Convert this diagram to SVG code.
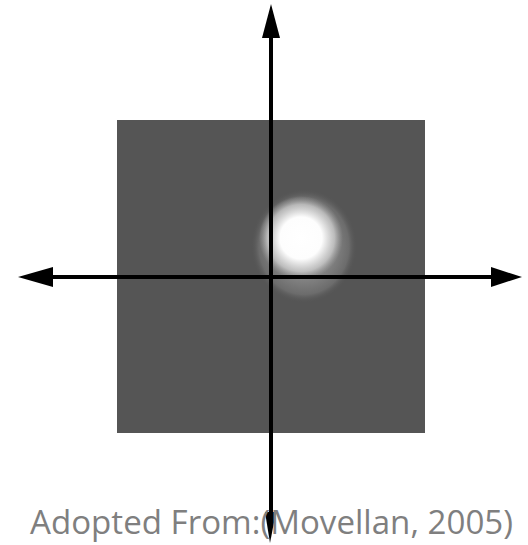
<svg xmlns="http://www.w3.org/2000/svg" width="528" height="545" viewBox="0 0 528 545">
<defs>
<radialGradient id="halo" cx="0.5" cy="0.5" r="0.5">
<stop offset="0" stop-color="#b4b4b4"/>
<stop offset="0.55" stop-color="#858585"/>
<stop offset="0.85" stop-color="#6c6c6c"/>
<stop offset="1" stop-color="#555555" stop-opacity="0"/>
</radialGradient>
<radialGradient id="core" cx="0.5" cy="0.5" r="0.5">
<stop offset="0" stop-color="#ffffff"/>
<stop offset="0.5" stop-color="#fdfdfd"/>
<stop offset="0.8" stop-color="#d4d4d4" stop-opacity="0.7"/>
<stop offset="1" stop-color="#aaaaaa" stop-opacity="0"/>
</radialGradient>
<style>
.axis{stroke:#000;stroke-width:4;fill:none}
.head{fill:#000}
.cap{font-family:"Open Sans","Liberation Sans",sans-serif;font-size:32px;fill:#7f7f7f}
</style>
</defs>
<rect width="528" height="545" fill="#fff"/>
<g id="field">
<rect x="117" y="120" width="308" height="313" fill="#555555"/>
<ellipse cx="304" cy="246" rx="53" ry="57" fill="url(#halo)"/>
<ellipse cx="301" cy="238" rx="42" ry="42" fill="url(#core)"/>
</g>
<g id="connectors">
<line class="axis" x1="271" y1="30" x2="271" y2="520"/>
<line class="axis" x1="45" y1="277" x2="497" y2="277"/>
<polygon class="head" points="271,4 262,38 280,38"/>
<polygon class="head" points="18,277 53,267 53,287"/>
<polygon class="head" points="522,277 491,267 491,287"/>
<polygon class="head" points="270,543 265,512 276,512"/>
</g>
<g id="caption">
<text class="cap" x="30" y="534" textLength="483" lengthAdjust="spacingAndGlyphs">Adopted From:(Movellan, 2005)</text>
</g>
</svg>
